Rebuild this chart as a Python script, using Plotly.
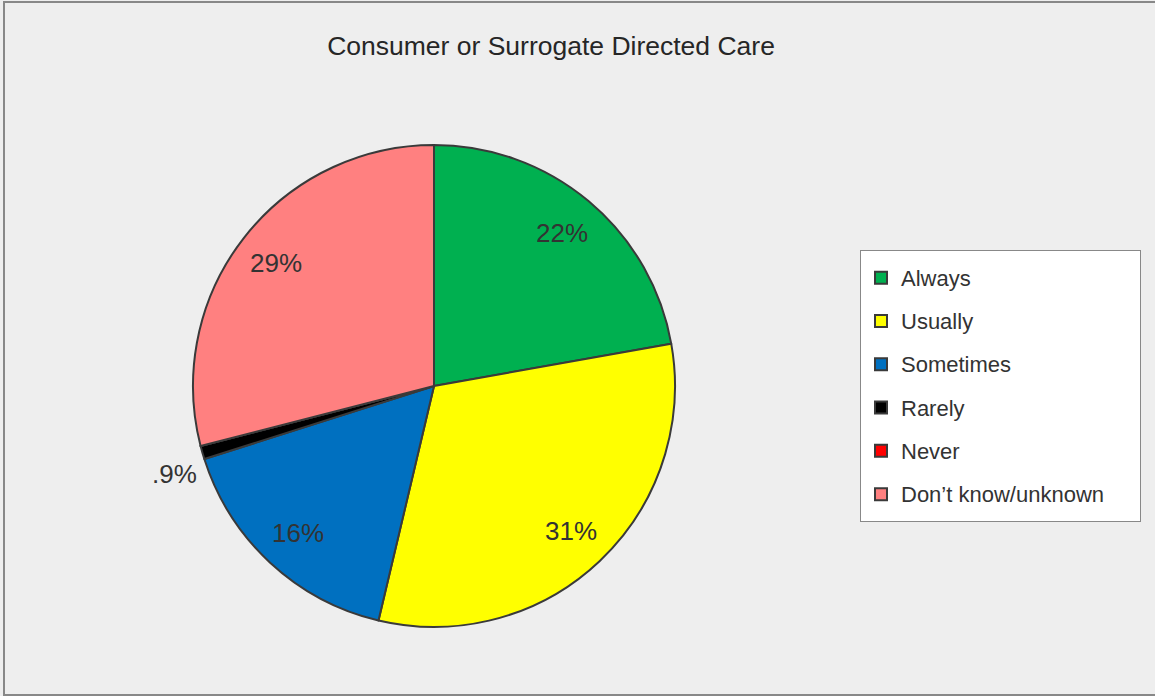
import math
import plotly.graph_objects as go

# Data
categories = ["Always", "Usually", "Sometimes", "Rarely", "Never", "Don\u2019t know/unknown"]
values = [22.2, 31.5, 16.4, 0.9, 0.0, 29.0]
value_labels = ["22%", "31%", "16%", ".9%", "", "29%"]
colors = ["#00B050", "#FFFF00", "#0070C0", "#000000", "#FF0000", "#FF8080"]
label_outside = [False, False, False, True, False, False]

W, H = 1155, 696
FONT = "Liberation Sans, Arial, sans-serif"

# pie geometry (pixels, layout only)
CX, CY, R = 434, 386, 241
dom_x = [(CX - R) / W, (CX + R) / W]
dom_y = [(H - CY - R) / H, (H - CY + R) / H]

pad = "\u00a0" * 5
legend_labels = [
    f"<span style='font-size:22px;baseline-shift:4px'>{c}{pad if i == len(categories) - 1 else ''}</span>"
    for i, c in enumerate(categories)
]

fig = go.Figure(
    go.Pie(
        labels=legend_labels,
        values=values,
        textinfo="none",
        sort=False,
        direction="clockwise",
        rotation=0,
        marker=dict(colors=colors, line=dict(color="#3a3a3a", width=2)),
        domain=dict(x=dom_x, y=dom_y),
        hoverinfo="percent",
    )
)

# value labels placed at mid-angle of each slice (derived from the data)
total = sum(values)
cum = 0.0
annotations = []
for v, lab, outside in zip(values, value_labels, label_outside):
    mid = (cum + v / 2) / total * 2 * math.pi
    cum += v
    if not lab:
        continue
    f = 1.12 if outside else 0.83
    px = CX + f * R * math.sin(mid)
    py = CY - f * R * math.cos(mid)
    annotations.append(
        dict(
            text=lab,
            x=px / W,
            y=1 - py / H,
            xref="paper",
            yref="paper",
            xanchor="center",
            yanchor="middle",
            yshift=-14 if outside else 0,
            showarrow=False,
            font=dict(family=FONT, size=26, color="#333333"),
        )
    )

fig.update_layout(
    width=W,
    height=H,
    autosize=False,
    margin=dict(l=0, r=0, t=0, b=0),
    paper_bgcolor="#EEEEEE",
    plot_bgcolor="#EEEEEE",
    font=dict(family=FONT, color="#333333"),
    title=dict(
        text="Consumer or Surrogate Directed Care",
        x=551 / W,
        xanchor="center",
        y=1 - 46 / H,
        yanchor="middle",
        font=dict(family=FONT, size=26.5, color="#262626"),
    ),
    legend=dict(
        x=860 / W,
        xanchor="left",
        y=1 - 250 / H,
        yanchor="top",
        bgcolor="#FFFFFF",
        bordercolor="#888888",
        borderwidth=1,
        font=dict(family=FONT, size=31, color="#333333"),
    ),
    annotations=annotations,
    shapes=[
        dict(
            type="rect",
            xref="paper",
            yref="paper",
            x0=4 / W,
            x1=1.02,
            y0=1 / H,
            y1=1 - 2 / H,
            line=dict(color="#888888", width=2),
            layer="below",
        )
    ],
)

fig.write_html(
    "out.html",
    config={"responsive": False, "displayModeBar": False},
    post_script="document.body.style.margin='0px';document.body.style.overflow='hidden';",
)
